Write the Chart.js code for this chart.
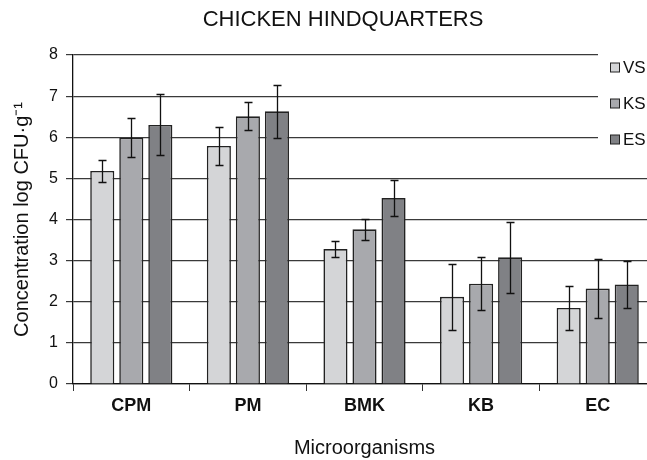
<!DOCTYPE html>
<html>
<head>
<meta charset="utf-8">
<script src="https://cdn.jsdelivr.net/npm/chart.js@4/dist/chart.umd.min.js"></script>
<style>
  html, body { margin: 0; padding: 0; background: #fff; overflow: hidden; }
  #wrap { width: 647px; height: 460px; overflow: hidden; }
</style>
</head>
<body>
<div id="wrap"><canvas id="chart" width="656" height="460"></canvas></div>
<script>
const categories = ["CPM", "PM", "BMK", "KB", "EC"];
const seriesNames = ["VS", "KS", "ES"];
const vsValues = [5.18, 5.79, 3.28, 2.12, 1.85];
const ksValues = [5.99, 6.51, 3.76, 2.44, 2.32];
const esValues = [6.30, 6.63, 4.52, 3.08, 2.42];
const vsErrors = [0.27, 0.47, 0.19, 0.81, 0.54];
const ksErrors = [0.48, 0.34, 0.26, 0.64, 0.71];
const esErrors = [0.74, 0.64, 0.44, 0.87, 0.57];
const yTicks = [0, 1, 2, 3, 4, 5, 6, 7, 8];

const FONT = "'Liberation Sans', Arial, Helvetica, sans-serif";
const colors = ["#d4d5d7", "#a8a9ad", "#808185"];

// error bars drawn on top of each bar, from the dataset's `errors` array
const errorBars = {
  id: "errorBars",
  afterDatasetsDraw(chart) {
    const ctx = chart.ctx;
    const y = chart.scales.y;
    ctx.save();
    ctx.strokeStyle = "#111";
    ctx.lineWidth = 1.3;
    chart.data.datasets.forEach((ds, i) => {
      const meta = chart.getDatasetMeta(i);
      meta.data.forEach((bar, j) => {
        const v = ds.data[j], e = ds.errors[j];
        const top = Math.round(y.getPixelForValue(v + e)) + 0.5;
        const bot = Math.round(y.getPixelForValue(v - e)) + 0.5;
        const x = Math.round(bar.x) + 0.5;
        ctx.beginPath();
        ctx.moveTo(x, top); ctx.lineTo(x, bot);
        ctx.moveTo(x - 4, top); ctx.lineTo(x + 4, top);
        ctx.moveTo(x - 4, bot); ctx.lineTo(x + 4, bot);
        ctx.stroke();
      });
    });
    ctx.restore();
  }
};

// title and the legend box that sits over the top right of the plot
const headerAndLegend = {
  id: "headerAndLegend",
  afterDraw(chart) {
    const ctx = chart.ctx;
    ctx.save();
    ctx.fillStyle = "#111";
    ctx.font = "22px " + FONT;
    ctx.textAlign = "center";
    ctx.textBaseline = "middle";
    ctx.fillText("CHICKEN HINDQUARTERS", 343, 20);

    ctx.fillStyle = "#fff";
    ctx.fillRect(598, 44, chart.width - 598, 116);
    ctx.font = "17px " + FONT;
    ctx.textAlign = "left";
    chart.data.datasets.forEach((ds, i) => {
      const cy = 67.5 + i * 36;
      ctx.fillStyle = ds.backgroundColor;
      ctx.fillRect(610.5, cy - 4.5, 9, 9);
      ctx.strokeStyle = "#222";
      ctx.lineWidth = 1;
      ctx.strokeRect(610.5, cy - 4.5, 9, 9);
      ctx.fillStyle = "#111";
      ctx.fillText(ds.label, 623, cy + 1);
    });
    ctx.restore();
  }
};

const datasets = [vsValues, ksValues, esValues].map((vals, i) => ({
  label: seriesNames[i],
  data: vals,
  errors: [vsErrors, ksErrors, esErrors][i],
  backgroundColor: colors[i],
  borderColor: "#222",
  borderWidth: 1.6,
  categoryPercentage: 0.747,
  barPercentage: 0.83,
}));

new Chart(document.getElementById("chart"), {
  type: "bar",
  data: { labels: categories, datasets },
  plugins: [errorBars, headerAndLegend],
  options: {
    responsive: false,
    animation: false,
    layout: { padding: { top: 55, right: 0, bottom: 0, left: 0 } },
    plugins: {
      legend: { display: false },
      title: { display: false },
      tooltip: { enabled: false },
    },
    scales: {
      x: {
        afterFit(scale) { scale.height = 76; },
        grid: {
          offset: true,
          drawOnChartArea: false,
          drawTicks: true,
          tickLength: 7,
          color: "#333",
        },
        border: { color: "#111", width: 1.3 },
        ticks: {
          color: "#111",
          padding: 4,
          font: { family: FONT, size: 18, weight: "bold" },
        },
        title: {
          display: true,
          text: "Microorganisms",
          color: "#111",
          font: { family: FONT, size: 20 },
          padding: { top: 0, bottom: 0 },
        },
      },
      y: {
        min: 0,
        max: 8,
        afterFit(scale) { scale.width = 73; },
        afterBuildTicks(scale) { scale.ticks = yTicks.map(v => ({ value: v })); },
        grid: {
          color: "#3a3a3a",
          lineWidth: 1.2,
          drawTicks: true,
          tickLength: 7,
        },
        border: { color: "#111", width: 1.3 },
        ticks: {
          color: "#111",
          padding: 8,
          font: { family: FONT, size: 16 },
        },
        title: {
          display: true,
          text: "Concentration log CFU\u00b7g\u207b\u00b9",
          color: "#111",
          font: { family: FONT, size: 20 },
          padding: { top: 10, bottom: 0 },
        },
      },
    },
  },
});
</script>
</body>
</html>
